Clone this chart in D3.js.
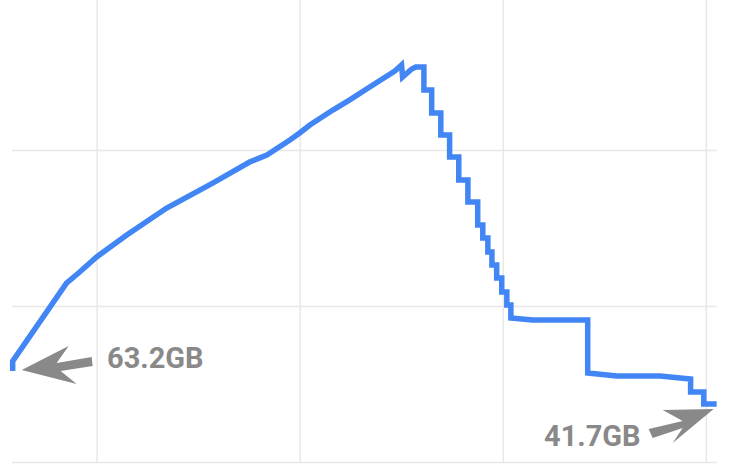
<!DOCTYPE html>
<html>
<head>
<meta charset="utf-8">
<script src="https://cdn.jsdelivr.net/npm/d3@7"></script>
<style>
  body { margin: 0; background: #fff; }
  text { font-family: Roboto, "Noto Sans", sans-serif; }
</style>
</head>
<body>
<script>
// hours since start vs. memory used (GB)
var hours = [3.52, 3.52, 5.11, 5.50, 6.00, 6.89, 8.07, 9.43, 10.52, 11.03, 11.71, 12.00, 12.30,
  12.98, 13.48, 14.07, 14.81, 15.01, 15.04, 15.31, 15.43,
  15.67, 15.67, 15.90, 15.90, 16.17, 16.17, 16.43, 16.43, 16.70, 16.70, 16.97, 16.97,
  17.26, 17.26, 17.41, 17.41, 17.56, 17.56, 17.68, 17.68, 17.82, 17.82, 17.97, 17.97,
  18.12, 18.12, 18.24, 18.24, 18.88, 20.51, 20.51, 21.37, 22.64, 23.55, 23.55, 23.94, 23.94, 24.32];
var usedGB = [58.3, 64.7, 114.7, 121.8, 131.4, 145.5, 162.8, 178.8, 192.3, 196.8, 206.4, 210.9, 216.0,
  225.6, 232.1, 240.4, 250.6, 254.5, 246.8, 251.9, 253.2,
  253.2, 238.5, 238.5, 223.7, 223.7, 209.6, 209.6, 195.5, 195.5, 180.8, 180.8, 166.7,
  166.7, 151.9, 151.9, 143.6, 143.6, 134.6, 134.6, 126.3, 126.3, 117.9, 117.9, 109.0,
  109.0, 100.6, 100.6, 92.3, 91.0, 91.0, 57.1, 55.1, 55.1, 53.2, 44.9, 44.9, 37.2, 37.2];
var xTicks = [6, 12, 18, 24];
var yTicks = [0, 100, 200];
var startLabel = "63.2GB";
var endLabel = "41.7GB";

function draw() {
  var w = 743, h = 471;
  var svg = d3.select("body").append("svg")
    .attr("width", w)
    .attr("height", h);

  var x = d3.scaleLinear().domain([3.5, 24.33]).range([12, 717]);
  var y = d3.scaleLinear().domain([0, 300]).range([462, -6]);

  // grid lines
  svg.append("g")
    .attr("transform", "translate(0,462)")
    .call(d3.axisBottom(x).tickValues(xTicks).tickSize(-462).tickFormat(""))
    .call(g => g.select(".domain").remove())
    .call(g => g.selectAll("line").attr("stroke", "#e8e8e8").attr("stroke-width", 1.5));

  svg.append("g")
    .attr("transform", "translate(12,0)")
    .call(d3.axisLeft(y).tickValues(yTicks).tickSize(-705).tickFormat(""))
    .call(g => g.select(".domain").remove())
    .call(g => g.selectAll("line").attr("stroke", "#e8e8e8").attr("stroke-width", 1.5));

  var pts = hours.map(function(d, i) { return [d, usedGB[i]]; });
  var line = d3.line()
    .x(function(d) { return x(d[0]); })
    .y(function(d) { return y(d[1]); });

  svg.append("path")
    .datum(pts)
    .attr("d", line)
    .attr("fill", "none")
    .attr("stroke", "#4285f4")
    .attr("stroke-width", 5.5);

  // annotation arrows
  var arrowColor = "#898989";
  var sx = x(hours[0]), sy = y(usedGB[0]);
  var startArrow = [[9, -1], [56, -25], [44, -8], [79, -14], [80, -5], [48, 0], [64, 13]];
  svg.append("polygon")
    .attr("points", startArrow.map(p => [sx + p[0], sy + p[1]].join(",")).join(" "))
    .attr("fill", arrowColor);
  svg.append("text")
    .attr("x", 107).attr("y", 368)
    .attr("font-size", 29).attr("font-weight", "bold")
    .attr("fill", arrowColor)
    .text(startLabel);

  var ex = x(hours[hours.length - 1]), ey = y(usedGB[usedGB.length - 1]);
  var endArrow = [[-3, 5], [-54, 6], [-34, 17], [-68, 25], [-64, 34], [-34, 24], [-44, 39]];
  svg.append("polygon")
    .attr("points", endArrow.map(p => [ex + p[0], ey + p[1]].join(",")).join(" "))
    .attr("fill", arrowColor);
  svg.append("text")
    .attr("x", 544).attr("y", 446)
    .attr("font-size", 29).attr("font-weight", "bold")
    .attr("fill", arrowColor)
    .text(endLabel);
}
window.onload = draw;
</script>
</body>
</html>
